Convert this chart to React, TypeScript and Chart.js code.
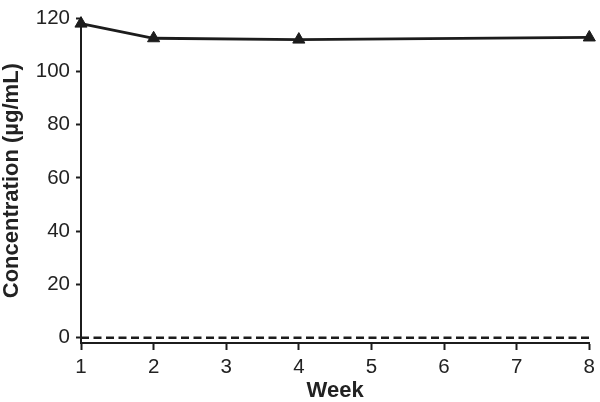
import React, { useEffect, useRef } from "react";
import { Chart, registerables } from "chart.js";

Chart.register(...registerables);

const weeks = [1, 2, 4, 8];
const concentration = [118, 112.5, 112, 112.8];
const baselineWeeks = [1, 8];
const baselineValues = [0, 0];
const yTicks = [0, 20, 40, 60, 80, 100, 120];
const xTicks = [1, 2, 3, 4, 5, 6, 7, 8];

const INK = "#1c1c1c";
const FONT = "'Liberation Sans', Arial, Helvetica, sans-serif";

export default function App() {
  const ref = useRef<HTMLCanvasElement | null>(null);

  useEffect(() => {
    if (!ref.current) return;
    const chart = new Chart(ref.current, {
      type: "line",
      data: {
        datasets: [
          {
            label: "Concentration",
            data: weeks.map((w, i) => ({ x: w, y: concentration[i] })),
            borderColor: INK,
            backgroundColor: INK,
            borderWidth: 2.8,
            pointStyle: "triangle",
            pointRadius: 7,
            pointBorderWidth: 1,
            pointBackgroundColor: INK,
            pointBorderColor: INK,
            tension: 0,
            clip: false,
            order: 0,
          },
          {
            label: "Baseline",
            data: baselineWeeks.map((w, i) => ({ x: w, y: baselineValues[i] })),
            borderColor: INK,
            borderWidth: 2.5,
            borderDash: [8, 4.5],
            pointRadius: 0,
            tension: 0,
            clip: false,
            order: 1,
          },
        ],
      },
      options: {
        animation: false,
        responsive: false,
        maintainAspectRatio: false,
        layout: { padding: { top: 12, right: 7, left: 0, bottom: 0 } },
        plugins: {
          legend: { display: false },
          tooltip: { enabled: false },
        },
        scales: {
          x: {
            type: "linear",
            min: 1,
            max: 8,
            afterBuildTicks: (scale: any) => {
              scale.ticks = xTicks.map((v) => ({ value: v }));
            },
            afterFit: (scale: any) => {
              scale.height = 59;
            },
            grid: {
              drawOnChartArea: false,
              drawTicks: true,
              tickLength: 7,
              tickColor: INK,
              tickWidth: 2,
            },
            border: { display: true, color: INK, width: 2 },
            ticks: {
              color: "#222",
              padding: 5,
              font: { family: FONT, size: 20.5 },
            },
            title: {
              display: true,
              text: "Week",
              color: "#222",
              font: { family: FONT, size: 22, weight: "bold", lineHeight: 1 },
              padding: { top: 0, bottom: 0 },
            },
          },
          y: {
            type: "linear",
            min: -2,
            max: 120,
            afterBuildTicks: (scale: any) => {
              scale.ticks = yTicks.map((v) => ({ value: v }));
            },
            afterFit: (scale: any) => {
              scale.width = 81;
            },
            grid: {
              drawOnChartArea: false,
              drawTicks: true,
              tickLength: 5,
              tickColor: INK,
              tickWidth: 2,
            },
            border: { display: true, color: INK, width: 2 },
            ticks: {
              color: "#222",
              padding: 6,
              font: { family: FONT, size: 20.5 },
            },
            title: {
              display: true,
              text: "Concentration (µg/mL)",
              color: "#222",
              font: { family: FONT, size: 22, weight: "bold", lineHeight: 1 },
              padding: { top: 1, bottom: 0 },
            },
          },
        },
      },
    });
    return () => chart.destroy();
  }, []);

  return (
    <div style={{ position: "absolute", left: 0, top: 0, width: 600, height: 402, background: "#fff" }}>
      <canvas ref={ref} width={600} height={402} style={{ display: "block" }} />
    </div>
  );
}
